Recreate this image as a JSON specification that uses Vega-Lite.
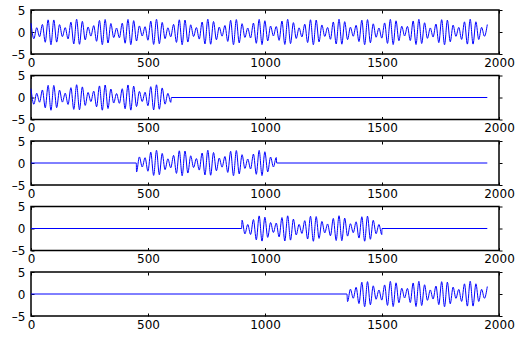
{
  "$schema": "https://vega.github.io/schema/vega-lite/v6.json",
  "padding": {"left": 10, "top": 3, "right": 0, "bottom": 0},
  "bounds": "flush",
  "spacing": 21.5,
  "background": "white",
  "config": {
    "view": {"stroke": "black", "strokeWidth": 1.5},
    "axis": {"grid": false, "domain": false, "tickColor": "black", "tickWidth": 1, "labelColor": "black", "labelFont": "DejaVu Sans", "labelFontSize": 12, "labelFlush": false, "labelOverlap": false, "format": "d"}
  },
  "datasets": {
    "sig": [
      {"x":0,"y":2.0},{"x":12.2,"y":-1.54},{"x":24.4,"y":0.97},{"x":36.6,"y":-1.07},{"x":48.8,"y":1.71},{"x":60.9,"y":-2.33},{"x":73.1,"y":2.76},{"x":85.3,"y":-2.9},{"x":97.5,"y":2.74},{"x":109.7,"y":-2.3},
      {"x":121.9,"y":1.67},{"x":134.1,"y":-1.05},{"x":146.3,"y":0.99},{"x":158.4,"y":-1.58},{"x":170.6,"y":2.23},{"x":182.8,"y":-2.7},{"x":195.0,"y":2.9},{"x":207.2,"y":-2.79},{"x":219.4,"y":2.41},{"x":231.6,"y":-1.8},
      {"x":243.8,"y":1.14},{"x":255.9,"y":-0.93},{"x":268.1,"y":1.45},{"x":280.3,"y":-2.11},{"x":292.5,"y":2.63},{"x":304.7,"y":-2.88},{"x":316.9,"y":2.84},{"x":329.1,"y":-2.5},{"x":341.3,"y":1.93},{"x":353.4,"y":-1.26},
      {"x":365.6,"y":0.9},{"x":377.8,"y":-1.32},{"x":390.0,"y":1.99},{"x":402.2,"y":-2.55},{"x":414.4,"y":2.85},{"x":426.6,"y":-2.87},{"x":438.8,"y":2.58},{"x":450.9,"y":-2.05},{"x":463.1,"y":1.38},{"x":475.3,"y":-0.91},
      {"x":487.5,"y":1.2},{"x":499.7,"y":-1.87},{"x":511.9,"y":2.46},{"x":524.1,"y":-2.82},{"x":536.3,"y":2.89},{"x":548.4,"y":-2.66},{"x":560.6,"y":2.17},{"x":572.8,"y":-1.51},{"x":585.0,"y":0.95},{"x":597.2,"y":-1.1},
      {"x":609.4,"y":1.74},{"x":621.6,"y":-2.36},{"x":633.8,"y":2.77},{"x":645.9,"y":-2.9},{"x":658.1,"y":2.72},{"x":670.3,"y":-2.28},{"x":682.5,"y":1.64},{"x":694.7,"y":-1.02},{"x":706.9,"y":1.01},{"x":719.1,"y":-1.61},
      {"x":731.3,"y":2.26},{"x":743.4,"y":-2.71},{"x":755.6,"y":2.9},{"x":767.8,"y":-2.78},{"x":780.0,"y":2.38},{"x":792.2,"y":-1.77},{"x":804.4,"y":1.12},{"x":816.6,"y":-0.94},{"x":828.8,"y":1.48},{"x":840.9,"y":-2.14},
      {"x":853.1,"y":2.65},{"x":865.3,"y":-2.89},{"x":877.5,"y":2.83},{"x":889.7,"y":-2.47},{"x":901.9,"y":1.89},{"x":914.1,"y":-1.23},{"x":926.3,"y":0.91},{"x":938.4,"y":-1.36},{"x":950.6,"y":2.03},{"x":962.8,"y":-2.57},
      {"x":975.0,"y":2.86},{"x":987.2,"y":-2.86},{"x":999.4,"y":2.56},{"x":1011.6,"y":-2.02},{"x":1023.8,"y":1.35},{"x":1035.9,"y":-0.9},{"x":1048.1,"y":1.24},{"x":1060.3,"y":-1.9},{"x":1072.5,"y":2.48},{"x":1084.7,"y":-2.83},
      {"x":1096.9,"y":2.88},{"x":1109.1,"y":-2.64},{"x":1121.3,"y":2.13},{"x":1133.4,"y":-1.47},{"x":1145.6,"y":0.94},{"x":1157.8,"y":-1.12},{"x":1170.0,"y":1.78},{"x":1182.2,"y":-2.39},{"x":1194.4,"y":2.78},{"x":1206.6,"y":-2.9},
      {"x":1218.8,"y":2.71},{"x":1230.9,"y":-2.25},{"x":1243.1,"y":1.6},{"x":1255.3,"y":-1.0},{"x":1267.5,"y":1.03},{"x":1279.7,"y":-1.65},{"x":1291.9,"y":2.28},{"x":1304.1,"y":-2.73},{"x":1316.3,"y":2.9},{"x":1328.4,"y":-2.77},
      {"x":1340.6,"y":2.35},{"x":1352.8,"y":-1.73},{"x":1365.0,"y":1.09},{"x":1377.2,"y":-0.96},{"x":1389.4,"y":1.52},{"x":1401.6,"y":-2.17},{"x":1413.8,"y":2.67},{"x":1425.9,"y":-2.89},{"x":1438.1,"y":2.81},{"x":1450.3,"y":-2.45},
      {"x":1462.5,"y":1.86},{"x":1474.7,"y":-1.19},{"x":1486.9,"y":0.91},{"x":1499.1,"y":-1.39},{"x":1511.3,"y":2.06},{"x":1523.4,"y":-2.59},{"x":1535.6,"y":2.87},{"x":1547.8,"y":-2.85},{"x":1560.0,"y":2.54},{"x":1572.2,"y":-1.98},
      {"x":1584.4,"y":1.31},{"x":1596.6,"y":-0.9},{"x":1608.8,"y":1.27},{"x":1620.9,"y":-1.94},{"x":1633.1,"y":2.51},{"x":1645.3,"y":-2.84},{"x":1657.5,"y":2.88},{"x":1669.7,"y":-2.62},{"x":1681.9,"y":2.1},{"x":1694.1,"y":-1.44},
      {"x":1706.3,"y":0.92},{"x":1718.4,"y":-1.15},{"x":1730.6,"y":1.81},{"x":1742.8,"y":-2.41},{"x":1755.0,"y":2.8},{"x":1767.2,"y":-2.9},{"x":1779.4,"y":2.69},{"x":1791.6,"y":-2.22},{"x":1803.8,"y":1.57},{"x":1815.9,"y":-0.98},
      {"x":1828.1,"y":1.05},{"x":1840.3,"y":-1.68},{"x":1852.5,"y":2.31},{"x":1864.7,"y":-2.75},{"x":1876.9,"y":2.9},{"x":1889.1,"y":-2.75},{"x":1901.3,"y":2.32},{"x":1913.4,"y":-1.7},{"x":1925.6,"y":1.06},{"x":1937.8,"y":-0.97},
      {"x":1950.0,"y":1.7},
      {"x":600,"y":0,"p":2},{"x":1950,"y":0,"p":2},
      {"x":0,"y":0,"p":3},{"x":450,"y":0,"p":3},{"x":1050,"y":0,"p":3},{"x":1950,"y":0,"p":3},
      {"x":0,"y":0,"p":4},{"x":900,"y":0,"p":4},{"x":1500,"y":0,"p":4},{"x":1950,"y":0,"p":4},
      {"x":0,"y":0,"p":5},{"x":1350,"y":0,"p":5}
    ]
  },
  "vconcat": [
    {
      "width": 468, "height": 44,
      "data": {"name": "sig"},
      "transform": [{"filter": "!isValid(datum.p)"}],
      "layer": [
        {"mark": {"type": "line", "color": "#0000ff", "strokeWidth": 1, "interpolate": "monotone"},
         "encoding": {
           "x": {"field": "x", "type": "quantitative", "scale": {"domain": [0, 2000], "nice": false}, "axis": {"orient": "bottom", "title": null, "values": [0, 500, 1000, 1500, 2000], "tickSize": -3, "labelPadding": 6}},
           "y": {"field": "y", "type": "quantitative", "scale": {"domain": [-5, 5], "nice": false}, "axis": {"orient": "left", "title": null, "values": [-5, 0, 5], "tickSize": -3, "labelPadding": 9, "labelExpr": "datum.value < 0 ? '–5' : datum.label"}}
         }},
        {"mark": {"type": "line", "strokeOpacity": 0},
         "encoding": {
           "x": {"field": "x", "type": "quantitative", "axis": {"orient": "top", "title": null, "values": [0, 500, 1000, 1500, 2000], "tickSize": -3, "labels": false}},
           "y": {"field": "y", "type": "quantitative", "axis": {"orient": "right", "title": null, "values": [-5, 0, 5], "tickSize": 3, "labels": false}}
         }}
      ],
      "resolve": {"axis": {"x": "independent", "y": "independent"}}
    },
    {
      "width": 468, "height": 44,
      "data": {"name": "sig"},
      "transform": [{"filter": "(!isValid(datum.p) && datum.x <= 600) || datum.p == 2"}],
      "layer": [
        {"mark": {"type": "line", "color": "#0000ff", "strokeWidth": 1, "interpolate": "monotone"},
         "encoding": {
           "x": {"field": "x", "type": "quantitative", "scale": {"domain": [0, 2000], "nice": false}, "axis": {"orient": "bottom", "title": null, "values": [0, 500, 1000, 1500, 2000], "tickSize": -3, "labelPadding": 6}},
           "y": {"field": "y", "type": "quantitative", "scale": {"domain": [-5, 5], "nice": false}, "axis": {"orient": "left", "title": null, "values": [-5, 0, 5], "tickSize": -3, "labelPadding": 9, "labelExpr": "datum.value < 0 ? '–5' : datum.label"}}
         }},
        {"mark": {"type": "line", "strokeOpacity": 0},
         "encoding": {
           "x": {"field": "x", "type": "quantitative", "axis": {"orient": "top", "title": null, "values": [0, 500, 1000, 1500, 2000], "tickSize": -3, "labels": false}},
           "y": {"field": "y", "type": "quantitative", "axis": {"orient": "right", "title": null, "values": [-5, 0, 5], "tickSize": 3, "labels": false}}
         }}
      ],
      "resolve": {"axis": {"x": "independent", "y": "independent"}}
    },
    {
      "width": 468, "height": 44,
      "data": {"name": "sig"},
      "transform": [{"filter": "(!isValid(datum.p) && datum.x >= 450 && datum.x <= 1050) || datum.p == 3"}],
      "layer": [
        {"mark": {"type": "line", "color": "#0000ff", "strokeWidth": 1, "interpolate": "monotone"},
         "encoding": {
           "x": {"field": "x", "type": "quantitative", "scale": {"domain": [0, 2000], "nice": false}, "axis": {"orient": "bottom", "title": null, "values": [0, 500, 1000, 1500, 2000], "tickSize": -3, "labelPadding": 6}},
           "y": {"field": "y", "type": "quantitative", "scale": {"domain": [-5, 5], "nice": false}, "axis": {"orient": "left", "title": null, "values": [-5, 0, 5], "tickSize": -3, "labelPadding": 9, "labelExpr": "datum.value < 0 ? '–5' : datum.label"}}
         }},
        {"mark": {"type": "line", "strokeOpacity": 0},
         "encoding": {
           "x": {"field": "x", "type": "quantitative", "axis": {"orient": "top", "title": null, "values": [0, 500, 1000, 1500, 2000], "tickSize": -3, "labels": false}},
           "y": {"field": "y", "type": "quantitative", "axis": {"orient": "right", "title": null, "values": [-5, 0, 5], "tickSize": 3, "labels": false}}
         }}
      ],
      "resolve": {"axis": {"x": "independent", "y": "independent"}}
    },
    {
      "width": 468, "height": 44,
      "data": {"name": "sig"},
      "transform": [{"filter": "(!isValid(datum.p) && datum.x >= 900 && datum.x <= 1500) || datum.p == 4"}],
      "layer": [
        {"mark": {"type": "line", "color": "#0000ff", "strokeWidth": 1, "interpolate": "monotone"},
         "encoding": {
           "x": {"field": "x", "type": "quantitative", "scale": {"domain": [0, 2000], "nice": false}, "axis": {"orient": "bottom", "title": null, "values": [0, 500, 1000, 1500, 2000], "tickSize": -3, "labelPadding": 6}},
           "y": {"field": "y", "type": "quantitative", "scale": {"domain": [-5, 5], "nice": false}, "axis": {"orient": "left", "title": null, "values": [-5, 0, 5], "tickSize": -3, "labelPadding": 9, "labelExpr": "datum.value < 0 ? '–5' : datum.label"}}
         }},
        {"mark": {"type": "line", "strokeOpacity": 0},
         "encoding": {
           "x": {"field": "x", "type": "quantitative", "axis": {"orient": "top", "title": null, "values": [0, 500, 1000, 1500, 2000], "tickSize": -3, "labels": false}},
           "y": {"field": "y", "type": "quantitative", "axis": {"orient": "right", "title": null, "values": [-5, 0, 5], "tickSize": 3, "labels": false}}
         }}
      ],
      "resolve": {"axis": {"x": "independent", "y": "independent"}}
    },
    {
      "width": 468, "height": 44,
      "data": {"name": "sig"},
      "transform": [{"filter": "(!isValid(datum.p) && datum.x >= 1350) || datum.p == 5"}],
      "layer": [
        {"mark": {"type": "line", "color": "#0000ff", "strokeWidth": 1, "interpolate": "monotone"},
         "encoding": {
           "x": {"field": "x", "type": "quantitative", "scale": {"domain": [0, 2000], "nice": false}, "axis": {"orient": "bottom", "title": null, "values": [0, 500, 1000, 1500, 2000], "tickSize": -3, "labelPadding": 6}},
           "y": {"field": "y", "type": "quantitative", "scale": {"domain": [-5, 5], "nice": false}, "axis": {"orient": "left", "title": null, "values": [-5, 0, 5], "tickSize": -3, "labelPadding": 9, "labelExpr": "datum.value < 0 ? '–5' : datum.label"}}
         }},
        {"mark": {"type": "line", "strokeOpacity": 0},
         "encoding": {
           "x": {"field": "x", "type": "quantitative", "axis": {"orient": "top", "title": null, "values": [0, 500, 1000, 1500, 2000], "tickSize": -3, "labels": false}},
           "y": {"field": "y", "type": "quantitative", "axis": {"orient": "right", "title": null, "values": [-5, 0, 5], "tickSize": 3, "labels": false}}
         }}
      ],
      "resolve": {"axis": {"x": "independent", "y": "independent"}}
    }
  ]
}
